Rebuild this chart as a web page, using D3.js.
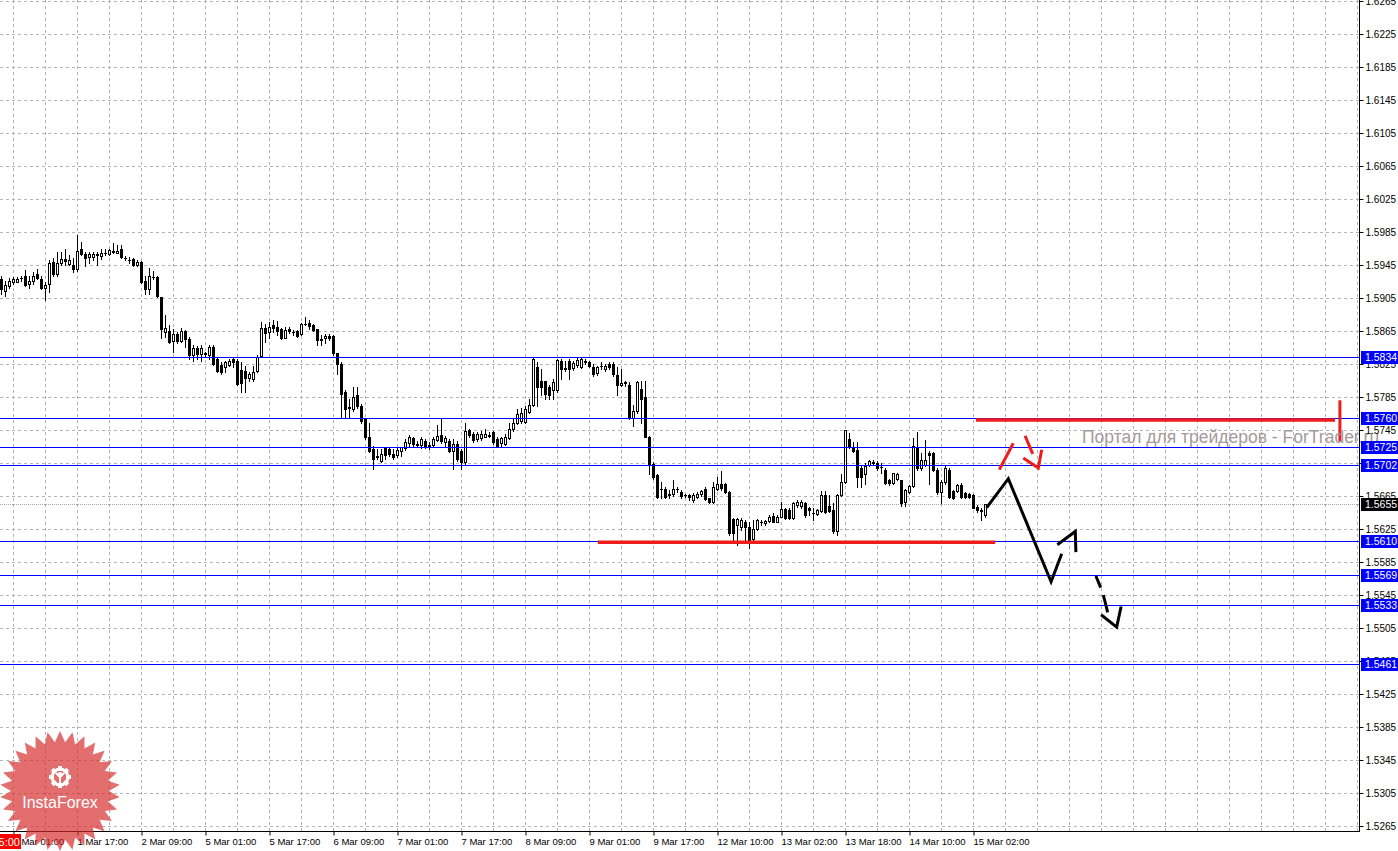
<!DOCTYPE html>
<html><head><meta charset="utf-8">
<script src="https://cdn.jsdelivr.net/npm/d3@7"></script>
<style>body{margin:0;background:#fff;overflow:hidden}svg{display:block}</style>
</head><body><svg id="c" width="1398" height="851"></svg>
<script>
// ---- candle data (H1), index 0 = 29 Feb 22:00 ----
const opens=[1.5928,1.5914,1.5920,1.5924,1.5925,1.5929,1.5932,1.5922,1.5926,1.5934,1.5928,1.5917,1.5922,1.5949,1.5934,1.5947,1.5952,1.5946,1.5945,1.5940,
1.5964,1.5958,1.5955,1.5955,1.5957,1.5956,1.5959,1.5958,1.5961,1.5960,1.5964,1.5953,1.5951,1.5952,1.5945,1.5949,1.5926,1.5916,1.5930,1.5930,
1.5906,1.5864,1.5865,1.5853,1.5861,1.5853,1.5865,1.5855,1.5836,1.5845,1.5837,1.5837,1.5836,1.5846,1.5831,1.5824,1.5821,1.5824,1.5831,1.5829,
1.5818,1.5817,1.5808,1.5807,1.5816,1.5835,1.5869,1.5864,1.5872,1.5870,1.5868,1.5857,1.5868,1.5864,1.5865,1.5861,1.5874,1.5875,1.5872,1.5867,
1.5854,1.5856,1.5859,1.5859,1.5838,1.5825,1.5791,1.5772,1.5770,1.5787,1.5774,1.5758,1.5736,1.5722,1.5714,1.5708,1.5723,1.5722,1.5716,1.5715,
1.5720,1.5723,1.5729,1.5735,1.5728,1.5727,1.5732,1.5727,1.5727,1.5733,1.5739,1.5730,1.5732,1.5720,1.5728,1.5720,1.5706,1.5745,1.5740,1.5734,
1.5735,1.5737,1.5739,1.5743,1.5734,1.5729,1.5728,1.5735,1.5746,1.5754,1.5756,1.5755,1.5767,1.5775,1.5821,1.5805,1.5804,1.5797,1.5793,1.5793,
1.5829,1.5820,1.5829,1.5820,1.5824,1.5821,1.5829,1.5828,1.5821,1.5814,1.5823,1.5819,1.5825,1.5825,1.5812,1.5799,1.5802,1.5799,1.5760,1.5768,
1.5795,1.5785,1.5737,1.5704,1.5690,1.5673,1.5674,1.5667,1.5667,1.5673,1.5670,1.5666,1.5666,1.5660,1.5664,1.5667,1.5674,1.5662,1.5658,1.5674,
1.5680,1.5680,1.5670,1.5637,1.5630,1.5628,1.5633,1.5628,1.5613,1.5625,1.5633,1.5632,1.5635,1.5641,1.5634,1.5640,1.5649,1.5648,1.5638,1.5654,
1.5653,1.5656,1.5650,1.5644,1.5643,1.5647,1.5666,1.5653,1.5648,1.5622,1.5666,1.5682,1.5734,1.5725,1.5721,1.5699,1.5692,1.5703,1.5705,1.5705,
1.5700,1.5697,1.5684,1.5681,1.5686,1.5685,1.5658,1.5670,1.5677,1.5725,1.5699,1.5703,1.5717,1.5717,1.5697,1.5670,1.5682,1.5697,1.5671,1.5671,
1.5678,1.5669,1.5668,1.5666,1.5652,1.5648,1.5642];
const highs=[1.5932,1.5926,1.5929,1.5930,1.5930,1.5932,1.5939,1.5932,1.5937,1.5940,1.5932,1.5924,1.5951,1.5953,1.5961,1.5961,1.5965,1.5957,1.5953,1.5981,
1.5973,1.5961,1.5961,1.5961,1.5961,1.5964,1.5964,1.5965,1.5972,1.5969,1.5969,1.5956,1.5955,1.5953,1.5951,1.5950,1.5932,1.5941,1.5938,1.5932,
1.5906,1.5885,1.5872,1.5868,1.5864,1.5869,1.5866,1.5858,1.5848,1.5847,1.5848,1.5840,1.5848,1.5848,1.5832,1.5827,1.5829,1.5831,1.5833,1.5831,
1.5828,1.5823,1.5815,1.5823,1.5836,1.5876,1.5874,1.5876,1.5878,1.5877,1.5869,1.5870,1.5870,1.5866,1.5866,1.5875,1.5882,1.5878,1.5874,1.5867,
1.5860,1.5861,1.5861,1.5860,1.5838,1.5827,1.5793,1.5782,1.5797,1.5797,1.5776,1.5760,1.5754,1.5726,1.5722,1.5722,1.5724,1.5723,1.5722,1.5723,
1.5725,1.5734,1.5739,1.5736,1.5732,1.5736,1.5734,1.5730,1.5736,1.5751,1.5758,1.5738,1.5734,1.5734,1.5732,1.5722,1.5754,1.5746,1.5742,1.5742,
1.5744,1.5746,1.5742,1.5744,1.5736,1.5736,1.5740,1.5753,1.5758,1.5770,1.5772,1.5774,1.5783,1.5832,1.5827,1.5819,1.5805,1.5799,1.5807,1.5831,
1.5831,1.5829,1.5831,1.5829,1.5832,1.5832,1.5831,1.5829,1.5825,1.5823,1.5827,1.5825,1.5827,1.5827,1.5821,1.5819,1.5805,1.5803,1.5775,1.5805,
1.5805,1.5805,1.5738,1.5706,1.5692,1.5682,1.5676,1.5672,1.5684,1.5676,1.5672,1.5668,1.5667,1.5669,1.5670,1.5672,1.5676,1.5663,1.5682,1.5688,
1.5695,1.5681,1.5671,1.5638,1.5638,1.5638,1.5636,1.5634,1.5636,1.5637,1.5636,1.5636,1.5642,1.5644,1.5642,1.5658,1.5650,1.5650,1.5658,1.5660,
1.5660,1.5658,1.5652,1.5650,1.5649,1.5671,1.5671,1.5666,1.5656,1.5668,1.5692,1.5745,1.5741,1.5731,1.5731,1.5701,1.5705,1.5709,1.5709,1.5707,
1.5705,1.5699,1.5686,1.5693,1.5693,1.5685,1.5674,1.5678,1.5735,1.5742,1.5717,1.5733,1.5719,1.5718,1.5699,1.5684,1.5703,1.5699,1.5672,1.5680,
1.5681,1.5670,1.5669,1.5667,1.5654,1.5650,1.5655];
const lows=[1.5910,1.5908,1.5917,1.5922,1.5924,1.5926,1.5920,1.5917,1.5922,1.5928,1.5916,1.5902,1.5912,1.5932,1.5932,1.5945,1.5945,1.5945,1.5937,1.5938,
1.5957,1.5944,1.5947,1.5951,1.5945,1.5952,1.5957,1.5957,1.5959,1.5959,1.5953,1.5951,1.5947,1.5944,1.5944,1.5923,1.5910,1.5910,1.5928,1.5906,
1.5857,1.5858,1.5850,1.5840,1.5850,1.5852,1.5846,1.5831,1.5829,1.5831,1.5829,1.5835,1.5831,1.5824,1.5815,1.5813,1.5815,1.5823,1.5821,1.5799,
1.5791,1.5791,1.5805,1.5805,1.5815,1.5833,1.5852,1.5856,1.5864,1.5860,1.5855,1.5856,1.5863,1.5860,1.5858,1.5860,1.5872,1.5868,1.5865,1.5848,
1.5848,1.5850,1.5854,1.5836,1.5813,1.5760,1.5760,1.5760,1.5768,1.5772,1.5754,1.5734,1.5718,1.5698,1.5710,1.5706,1.5710,1.5714,1.5710,1.5712,
1.5714,1.5721,1.5726,1.5726,1.5725,1.5723,1.5723,1.5722,1.5724,1.5732,1.5729,1.5726,1.5718,1.5698,1.5708,1.5698,1.5704,1.5737,1.5730,1.5732,
1.5733,1.5736,1.5736,1.5728,1.5724,1.5726,1.5727,1.5734,1.5744,1.5752,1.5754,1.5753,1.5766,1.5774,1.5774,1.5787,1.5783,1.5783,1.5783,1.5791,
1.5807,1.5817,1.5807,1.5818,1.5821,1.5820,1.5825,1.5821,1.5811,1.5812,1.5819,1.5817,1.5819,1.5811,1.5787,1.5798,1.5798,1.5758,1.5750,1.5766,
1.5754,1.5736,1.5692,1.5686,1.5663,1.5663,1.5662,1.5662,1.5665,1.5670,1.5662,1.5664,1.5660,1.5658,1.5662,1.5665,1.5660,1.5656,1.5657,1.5672,
1.5672,1.5669,1.5618,1.5612,1.5606,1.5624,1.5612,1.5602,1.5612,1.5624,1.5630,1.5630,1.5634,1.5633,1.5633,1.5639,1.5637,1.5637,1.5637,1.5652,
1.5651,1.5640,1.5642,1.5636,1.5642,1.5646,1.5644,1.5646,1.5620,1.5618,1.5665,1.5681,1.5723,1.5718,1.5676,1.5676,1.5680,1.5701,1.5703,1.5697,
1.5693,1.5680,1.5678,1.5680,1.5684,1.5653,1.5653,1.5669,1.5676,1.5697,1.5697,1.5701,1.5680,1.5695,1.5668,1.5656,1.5680,1.5663,1.5661,1.5670,
1.5662,1.5662,1.5662,1.5650,1.5646,1.5636,1.5640];
const closes=[1.5916,1.5921,1.5926,1.5928,1.5928,1.5929,1.5921,1.5926,1.5932,1.5929,1.5917,1.5921,1.5948,1.5934,1.5947,1.5952,1.5950,1.5951,1.5940,1.5962,
1.5958,1.5953,1.5958,1.5958,1.5958,1.5960,1.5960,1.5963,1.5962,1.5962,1.5955,1.5953,1.5951,1.5945,1.5949,1.5924,1.5916,1.5932,1.5931,1.5907,
1.5868,1.5869,1.5852,1.5861,1.5853,1.5865,1.5855,1.5836,1.5844,1.5837,1.5845,1.5838,1.5846,1.5825,1.5816,1.5815,1.5827,1.5829,1.5827,1.5801,
1.5802,1.5808,1.5813,1.5815,1.5833,1.5869,1.5862,1.5870,1.5869,1.5865,1.5856,1.5866,1.5865,1.5864,1.5859,1.5874,1.5874,1.5871,1.5866,1.5854,
1.5855,1.5859,1.5856,1.5838,1.5825,1.5789,1.5771,1.5773,1.5785,1.5774,1.5756,1.5736,1.5720,1.5710,1.5712,1.5716,1.5715,1.5716,1.5712,1.5721,
1.5724,1.5730,1.5736,1.5728,1.5727,1.5734,1.5726,1.5724,1.5734,1.5738,1.5732,1.5735,1.5720,1.5728,1.5710,1.5706,1.5744,1.5739,1.5733,1.5740,
1.5740,1.5740,1.5738,1.5730,1.5726,1.5735,1.5737,1.5746,1.5753,1.5764,1.5766,1.5771,1.5775,1.5831,1.5797,1.5797,1.5789,1.5788,1.5803,1.5830,
1.5819,1.5819,1.5819,1.5826,1.5830,1.5831,1.5828,1.5822,1.5813,1.5821,1.5822,1.5823,1.5821,1.5813,1.5799,1.5802,1.5803,1.5760,1.5768,1.5803,
1.5783,1.5736,1.5704,1.5688,1.5664,1.5674,1.5664,1.5666,1.5674,1.5673,1.5665,1.5666,1.5664,1.5666,1.5668,1.5671,1.5661,1.5658,1.5676,1.5680,
1.5675,1.5670,1.5620,1.5620,1.5637,1.5636,1.5628,1.5612,1.5625,1.5636,1.5633,1.5635,1.5640,1.5634,1.5640,1.5649,1.5638,1.5638,1.5656,1.5658,
1.5658,1.5642,1.5648,1.5644,1.5648,1.5666,1.5646,1.5647,1.5622,1.5666,1.5682,1.5745,1.5725,1.5719,1.5688,1.5688,1.5701,1.5707,1.5706,1.5699,
1.5700,1.5681,1.5681,1.5693,1.5692,1.5656,1.5672,1.5677,1.5726,1.5699,1.5709,1.5709,1.5715,1.5697,1.5670,1.5682,1.5699,1.5664,1.5662,1.5678,
1.5664,1.5664,1.5664,1.5651,1.5648,1.5647,1.5655];

// ---- axes ----
const priceTicks=[1.6265,1.6225,1.6185,1.6145,1.6105,1.6065,1.6025,1.5985,1.5945,1.5905,1.5865,1.5825,1.5785,1.5745,1.5705,1.5665,1.5625,1.5585,1.5545,1.5505,1.5465,1.5425,1.5385,1.5345,1.5305,1.5265];
const timeLabels=["1 Mar 01:00","1 Mar 17:00","2 Mar 09:00","5 Mar 01:00","5 Mar 17:00","6 Mar 09:00","7 Mar 01:00","7 Mar 17:00","8 Mar 09:00","9 Mar 01:00","9 Mar 17:00","12 Mar 10:00","13 Mar 02:00","13 Mar 18:00","14 Mar 10:00","15 Mar 02:00"];
const timeLabelBars=[3,19,35,51,67,83,99,115,131,147,163,179,195,211,227,243];

// ---- levels & drawings ----
const levels=[1.5834,1.5760,1.5725,1.5702,1.5610,1.5569,1.5533,1.5461];
const currentPrice=1.5655;
const redLevels=[{from:149.1,to:248.4,price:1.5609},{from:243.6,to:333.4,price:1.5757}];
const redMarker=[[334.6,1.5781],[334.6,1.5731]];
const redPaths=[[[249.45,1.5697],[252.95,1.5729]],[[255.9,1.5738],[257.8,1.5716]],[[255.45,1.5711],[259.2,1.5699],[260.05,1.5721]]];
const blackPaths=[[[246.3,1.5651],[251.7,1.5686],[262.4,1.5561],[265.05,1.5595]],[[263.95,1.5606],[268.45,1.5622],[268.6,1.5597]],
  [[273.6,1.5568],[274.8,1.5554]],[[275.45,1.5545],[276.55,1.5524]],[[274.9,1.5521],[278.8,1.5506],[279.9,1.5531]]];
const watermark="Портал для трейдеров - ForTrader.ru";

const W=1398,H=851,plotR=1359,plotB=831;
const svg=d3.select("#c");
const x=d3.scaleLinear().domain([0,1]).range([1.5,5.5]);
const y=d3.scaleLinear().domain([1.6265,1.5265]).range([1,826]);
const FONT="'Liberation Sans', Arial, sans-serif";
const cy=v=>Math.round(y(v))+0.5;

svg.append("rect").attr("width",W).attr("height",H).attr("fill","#fff");
const defs=svg.append("defs");
defs.append("clipPath").attr("id","plot").append("rect").attr("x",0).attr("y",0).attr("width",plotR).attr("height",plotB);

const plot=svg.append("g").attr("clip-path","url(#plot)");
// grid
const gridCols=d3.range(3,340,8);
plot.append("g").selectAll("line").data(gridCols).join("line")
  .attr("x1",d=>x(d)).attr("x2",d=>x(d)).attr("y1",0).attr("y2",plotB)
  .attr("stroke","#b4b4b4").attr("stroke-dasharray","3,3");
plot.append("g").selectAll("line").data(priceTicks).join("line")
  .attr("x1",0).attr("x2",plotR).attr("y1",d=>cy(d)).attr("y2",d=>cy(d))
  .attr("stroke","#b4b4b4").attr("stroke-dasharray","3,3");
// current price line
plot.append("line").attr("x1",0).attr("x2",plotR).attr("y1",cy(currentPrice)).attr("y2",cy(currentPrice))
  .attr("stroke","#a8a8a8").attr("stroke-dasharray","1,1");

// candles
const data=opens.map((o,i)=>({i,o,h:highs[i],l:lows[i],c:closes[i]}));
const cg=plot.append("g");
cg.selectAll("line.w").data(data).join("line").attr("class","w")
  .attr("x1",d=>x(d.i)).attr("x2",d=>x(d.i))
  .attr("y1",d=>Math.round(y(d.h))).attr("y2",d=>Math.round(y(d.l))+1)
  .attr("stroke","#000");
data.forEach(d=>{
  const t=Math.round(y(Math.max(d.o,d.c))), b=Math.round(y(Math.min(d.o,d.c)));
  const x0=x(d.i)-1.5;
  if(b-t<2){
    cg.append("rect").attr("x",x0).attr("y",t).attr("width",3).attr("height",Math.max(1,b-t+1)).attr("fill","#000");
  } else if(d.c<d.o){
    cg.append("rect").attr("x",x0).attr("y",t).attr("width",3).attr("height",b-t+1).attr("fill","#000");
  } else {
    cg.append("rect").attr("x",x0+0.5).attr("y",t+0.5).attr("width",2).attr("height",b-t).attr("fill","#fff").attr("stroke","#000");
  }
});

// level lines
plot.append("g").selectAll("line").data(levels).join("line")
  .attr("x1",0).attr("x2",plotR).attr("y1",d=>cy(d)).attr("y2",d=>cy(d)).attr("stroke","#0000ff");

// red levels
plot.append("g").selectAll("line").data(redLevels).join("line")
  .attr("x1",d=>x(d.from)).attr("x2",d=>x(d.to)).attr("y1",d=>y(d.price)).attr("y2",d=>y(d.price))
  .attr("stroke","#ee1c1c").attr("stroke-width",3.5);
const lineGen=d3.line().x(d=>x(d[0])).y(d=>y(d[1]));
plot.append("path").attr("d",lineGen(redMarker)).attr("stroke","#ee1c1c").attr("stroke-width",3).attr("fill","none");
plot.append("g").selectAll("path").data(redPaths).join("path").attr("d",lineGen)
  .attr("fill","none").attr("stroke","#ee1c1c").attr("stroke-width",3).attr("stroke-linejoin","miter");
plot.append("g").selectAll("path").data(blackPaths).join("path").attr("d",lineGen)
  .attr("fill","none").attr("stroke","#000").attr("stroke-width",3).attr("stroke-linejoin","miter");

// watermark (extends into the price-scale area, as in the reference)
svg.append("text").attr("x",1082).attr("y",443).text(watermark)
  .attr("font-family",FONT).attr("font-size",17.5).attr("fill","#a39a9a");

// axes
const ay=d3.axisRight(y).tickValues(priceTicks).tickFormat(d3.format(".4f")).tickSize(4).tickPadding(2);
const gy=svg.append("g").attr("transform",`translate(${plotR+0.5},0)`).call(ay);
gy.select(".domain").remove();
gy.selectAll(".tick line").attr("stroke","#000");
gy.selectAll(".tick").attr("transform",d=>`translate(0,${cy(d)})`);
gy.selectAll("text").attr("font-family",FONT).attr("font-size",10).attr("fill","#000").attr("dy","0.35em");

const ax=d3.axisBottom(x).tickValues(timeLabelBars).tickFormat((d,i)=>timeLabels[i]).tickSize(4).tickPadding(3);
const gx=svg.append("g").attr("transform",`translate(0,${plotB+0.5})`).call(ax);
gx.select(".domain").remove();
gx.selectAll(".tick line").attr("stroke","#000");
gx.selectAll("text").attr("text-anchor","start").attr("x",-0.5).attr("font-family",FONT).attr("font-size",9.5).attr("fill","#000");

svg.append("line").attr("x1",plotR+0.5).attr("x2",plotR+0.5).attr("y1",0).attr("y2",plotB+1).attr("stroke","#000");
svg.append("line").attr("x1",0).attr("x2",plotR+1).attr("y1",plotB+0.5).attr("y2",plotB+0.5).attr("stroke","#000");

// price boxes
const boxes=levels.map(v=>({v,fill:"#0000ff"})).concat([{v:currentPrice,fill:"#000"}]);
const bg=svg.append("g");
bg.selectAll("rect").data(boxes).join("rect")
  .attr("x",plotR+2).attr("y",d=>Math.round(y(d.v))-6).attr("width",W-plotR-2).attr("height",13).attr("fill",d=>d.fill);
bg.selectAll("text").data(boxes).join("text")
  .attr("x",plotR+6).attr("y",d=>Math.round(y(d.v))+0.5).attr("dy","0.35em").text(d=>d3.format(".4f")(d.v))
  .attr("font-family",FONT).attr("font-size",10.5).attr("fill","#fff");

// red time box
svg.append("rect").attr("x",0).attr("y",834).attr("width",21).attr("height",15).attr("fill","#ff0000");
svg.append("text").attr("x",20).attr("y",846).attr("text-anchor","end").text("5:00")
  .attr("font-family",FONT).attr("font-size",11).attr("fill","#fff");

// InstaForex logo
const logo=svg.append("g").attr("transform","translate(60,791)");
const nPts=30, R=60, r=49;
const starPts=d3.range(nPts*2).map(k=>{const a=k*Math.PI/nPts; const rr=k%2?r:R; return [Math.sin(a)*rr,-Math.cos(a)*rr];});
logo.append("path").attr("d","M"+starPts.join("L")+"Z").attr("fill","#d42a2a").attr("fill-opacity",0.68);
const gear=logo.append("g").attr("transform","translate(0,-14)").attr("fill","#fff");
d3.range(8).forEach(k=>gear.append("rect").attr("x",-2).attr("y",-11).attr("width",4).attr("height",5).attr("transform",`rotate(${k*45})`));
gear.append("circle").attr("r",8).attr("fill","none").attr("stroke","#fff").attr("stroke-width",3);
gear.append("circle").attr("cy",-3).attr("r",2);
gear.append("path").attr("d","M-4,-4 L0,0 L4,-4").attr("fill","none").attr("stroke","#fff").attr("stroke-width",2);
gear.append("rect").attr("x",-1).attr("y",-1).attr("width",2).attr("height",8);
logo.append("text").attr("x",0).attr("y",17).attr("text-anchor","middle").text("InstaForex")
  .attr("font-family",FONT).attr("font-size",16).attr("fill","#fff");
</script></body></html>
